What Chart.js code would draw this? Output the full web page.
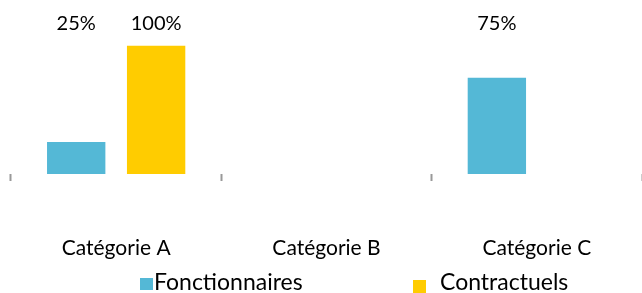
<!DOCTYPE html>
<html><head><meta charset="utf-8">
<script src="https://cdn.jsdelivr.net/npm/chart.js@4"></script>
<style>html,body{margin:0;padding:0;background:#fff}#w{width:642px;height:293px}</style>
</head><body><div id="w"><canvas id="c"></canvas></div>
<script>
const categories = ["Catégorie A", "Catégorie B", "Catégorie C"];
const seriesNames = ["Fonctionnaires", "Contractuels"];
const fonctionnaires = [25, null, 75];
const contractuels = [100, null, null];
const colors = ["#54b8d6", "#ffcc00"];
const FONT = "Lato";

const valueLabels = {
  id: "valueLabels",
  afterDatasetsDraw(chart) {
    const ctx = chart.ctx;
    ctx.save();
    ctx.font = "20px " + FONT;
    ctx.fillStyle = "#000";
    ctx.textAlign = "center";
    ctx.textBaseline = "alphabetic";
    chart.data.datasets.forEach((ds, di) => {
      chart.getDatasetMeta(di).data.forEach((el, i) => {
        const v = ds.data[i];
        if (v == null) return;
        ctx.fillText(v + "%", el.x, 30);
      });
    });
    ctx.restore();
  }
};
const customLegend = {
  id: "customLegend",
  afterDraw(chart) {
    const ctx = chart.ctx;
    ctx.save();
    ctx.font = "23px " + FONT;
    ctx.textBaseline = "alphabetic";
    const items = [
      {box: [140, 278, 13, 12], tx: 154, ty: 290},
      {box: [413, 280, 13, 13], tx: 440, ty: 290}
    ];
    chart.data.datasets.forEach((ds, i) => {
      const it = items[i];
      ctx.fillStyle = ds.backgroundColor;
      ctx.fillRect(...it.box);
      ctx.fillStyle = "#000";
      ctx.fillText(ds.label, it.tx, it.ty);
    });
    ctx.restore();
  }
};

new Chart(document.getElementById("c"), {
  type: "bar",
  data: {
    labels: categories,
    datasets: [
      {label: seriesNames[0], data: fonctionnaires, backgroundColor: colors[0]},
      {label: seriesNames[1], data: contractuels, backgroundColor: colors[1]}
    ]
  },
  options: {
    responsive: true, maintainAspectRatio: false, animation: false,
    layout: {padding: {top: 20, left: 11, right: 0, bottom: 0}},
    categoryPercentage: 0.76,
    barPercentage: 0.73,
    plugins: {legend: {display: false}, tooltip: {enabled: false}},
    scales: {
      x: {
        afterFit(scale) { scale.height = 119; scale.paddingLeft = 0; scale.paddingRight = 0; },
        grid: {offset: true, drawOnChartArea: false, tickLength: 7, tickColor: "#999", tickWidth: 2},
        border: {display: false},
        ticks: {padding: 55, color: "#000", font: {family: FONT, size: 21}}
      },
      y: {display: false, min: 0, max: 120}
    }
  },
  plugins: [valueLabels, customLegend]
});
</script></body></html>
